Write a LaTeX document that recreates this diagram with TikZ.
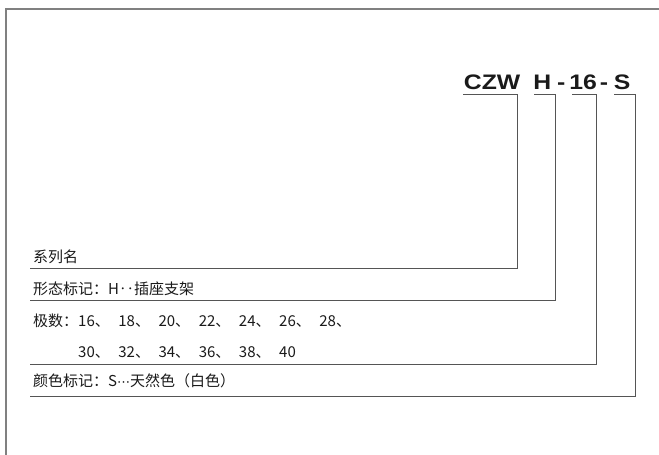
\documentclass[tikz,border=0pt]{standalone}
\usepackage{fontspec}
\usepackage{graphicx}
\newfontfamily\cjk{Noto Sans CJK SC}
\newfontfamily\titlef{Liberation Sans}
\newfontfamily\dejavu{DejaVu Sans}
\definecolor{txt}{HTML}{1A1A1A}
\definecolor{lin}{HTML}{555555}
\definecolor{frm}{HTML}{808080}
\newcommand\numit[1]{\makebox[40.2pt][l]{#1}}
\begin{document}
\begin{tikzpicture}[x=1pt,y=-1pt,
  lbl/.style={anchor=base west,inner sep=0pt,text=txt,font=\cjk\fontsize{15}{15}\selectfont},
  bline/.style={draw=lin,line width=1pt},
  frame/.style={draw=frm,line width=1.6pt}]
\useasboundingbox (0,0) rectangle (659,455);
% frame
\coordinate (f1) at (6,470);
\coordinate (f2) at (6,9);
\coordinate (f3) at (670,9);
\draw[frame] (f1) -- (f2) -- (f3);
% title
\node[anchor=base west,inner sep=0pt,text=txt] (title) at (463.7,89)
  {\scalebox{1.18}[1]{\titlef\bfseries\fontsize{21}{21}\selectfont CZW\hspace{11pt}H\hspace{5pt}-\hspace{3.4pt}16\hspace{2.5pt}-\hspace{5pt}S}};
% labels
\node[lbl] (l1) at (33,262) {系列名};
\node[lbl] (l2) at (33,294) {形态标记：H‥插座支架};
\node[lbl] (l3) at (33,326) {极数：\numit{16、}\numit{18、}\numit{20、}\numit{22、}\numit{24、}\numit{26、}\numit{28、}};
\node[lbl] (l4) at (33,357) {\hspace{45pt}\numit{30、}\numit{32、}\numit{34、}\numit{36、}\numit{38、}40};
\node[lbl] (l5) at (33,386) {颜色标记：S{\dejavu\fontsize{13}{13}\selectfont ⋯}天然色（白色）};
% brackets
\coordinate (a1) at (463,94); \coordinate (b1) at (517,94); \coordinate (c1) at (517,268); \coordinate (d1) at (30,268);
\coordinate (a2) at (534,94); \coordinate (b2) at (555,94); \coordinate (c2) at (555,300); \coordinate (d2) at (30,300);
\coordinate (a3) at (572,94); \coordinate (b3) at (596,94); \coordinate (c3) at (596,364); \coordinate (d3) at (30,364);
\coordinate (a4) at (614,94); \coordinate (b4) at (635,94); \coordinate (c4) at (635,396); \coordinate (d4) at (30,396);
\draw[bline] (a1) -- (b1) -- (c1) -- (d1);
\draw[bline] (a2) -- (b2) -- (c2) -- (d2);
\draw[bline] (a3) -- (b3) -- (c3) -- (d3);
\draw[bline] (a4) -- (b4) -- (c4) -- (d4);
\end{tikzpicture}
\end{document}
